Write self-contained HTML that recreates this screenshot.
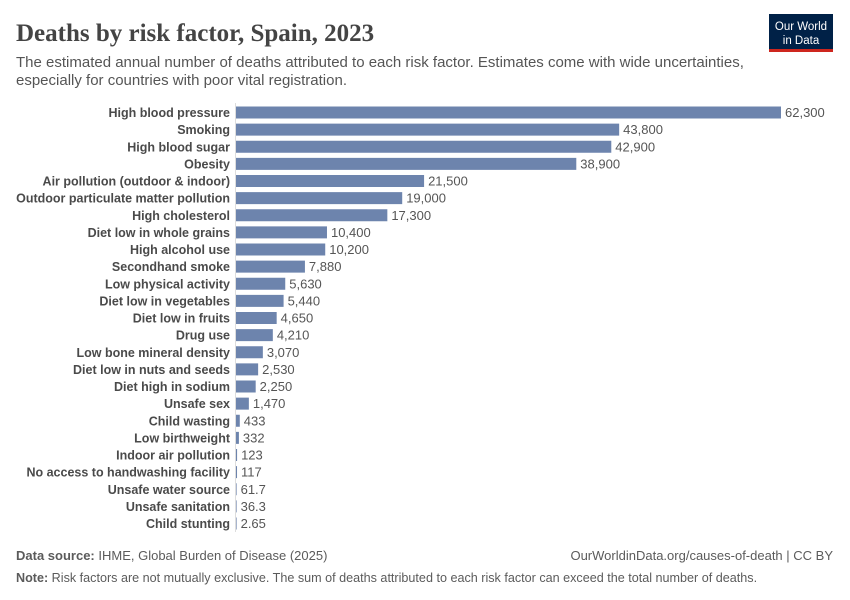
<!DOCTYPE html>
<html><head><meta charset="utf-8"><style>
body{margin:0;background:#fff;width:850px;height:600px;overflow:hidden;font-family:"Liberation Sans",sans-serif}
svg{display:block}
</style></head><body>
<svg id="chart" width="850" height="600" xmlns="http://www.w3.org/2000/svg">
<text x="16" y="41" font-family="Liberation Serif,serif" font-size="25" font-weight="bold" fill="#444">Deaths by risk factor, Spain, 2023</text>
<text x="16" y="67" font-size="15" fill="#555">The estimated annual number of deaths attributed to each risk factor. Estimates come with wide uncertainties,</text>
<text x="16" y="85" font-size="15" fill="#555">especially for countries with poor vital registration.</text>
<g>
<rect x="769" y="14" width="64" height="36" fill="#002147"/>
<rect x="769" y="49" width="64" height="3" fill="#ce261e"/>
<text x="801" y="30" font-size="11.5" fill="#fff" text-anchor="middle">Our World</text>
<text x="801" y="44" font-size="11.5" fill="#fff" text-anchor="middle">in Data</text>
</g>
<line x1="235.5" y1="103" x2="235.5" y2="532" stroke="#ddd"/>
<g id="bars"></g>
<text x="16" y="560" font-size="13" fill="#5b5b5b"><tspan font-weight="bold">Data source:</tspan> IHME, Global Burden of Disease (2025)</text>
<text x="833" y="560" font-size="13" fill="#5b5b5b" text-anchor="end">OurWorldinData.org/causes-of-death | CC BY</text>
<text x="16" y="582" font-size="12.6" fill="#5b5b5b"><tspan font-weight="bold">Note:</tspan> Risk factors are not mutually exclusive. The sum of deaths attributed to each risk factor can exceed the total number of deaths.</text>
</svg>
<script>
const categories=["High blood pressure","Smoking","High blood sugar","Obesity","Air pollution (outdoor & indoor)","Outdoor particulate matter pollution","High cholesterol","Diet low in whole grains","High alcohol use","Secondhand smoke","Low physical activity","Diet low in vegetables","Diet low in fruits","Drug use","Low bone mineral density","Diet low in nuts and seeds","Diet high in sodium","Unsafe sex","Child wasting","Low birthweight","Indoor air pollution","No access to handwashing facility","Unsafe water source","Unsafe sanitation","Child stunting"];
const values=[62300,43800,42900,38900,21500,19000,17300,10400,10200,7880,5630,5440,4650,4210,3070,2530,2250,1470,433,332,123,117,61.7,36.3,2.65];
const valueLabels=["62,300","43,800","42,900","38,900","21,500","19,000","17,300","10,400","10,200","7,880","5,630","5,440","4,650","4,210","3,070","2,530","2,250","1,470","433","332","123","117","61.7","36.3","2.65"];
const NS="http://www.w3.org/2000/svg";
const x0=236,xMaxPx=781,maxV=62300;
const xs=v=>v/maxV*(xMaxPx-x0);
const yc=i=>112.5+i*17.125;
const g=document.getElementById('bars');
categories.forEach((c,i)=>{
 const t=document.createElementNS(NS,'text');
 t.setAttribute('x',230);t.setAttribute('y',yc(i)+4.5);
 t.setAttribute('text-anchor','end');t.setAttribute('font-size','12.5');
 t.setAttribute('font-weight','bold');t.setAttribute('fill','#4a4a4a');
 t.textContent=c;
 
 
 g.appendChild(t);
 const w=Math.max(xs(values[i]),0.6);
 const r=document.createElementNS(NS,'rect');
 r.setAttribute('x',x0);r.setAttribute('y',yc(i)-6);
 r.setAttribute('width',w);r.setAttribute('height',12);
 r.setAttribute('fill','#6d84ad');
 
 
 g.appendChild(r);
 const v=document.createElementNS(NS,'text');
 v.setAttribute('x',x0+w+4);v.setAttribute('y',yc(i)+4.5);
 v.setAttribute('font-size','13');v.setAttribute('fill','#555');
 v.textContent=valueLabels[i];
 
 
 g.appendChild(v);
});
</script>
</body></html>
